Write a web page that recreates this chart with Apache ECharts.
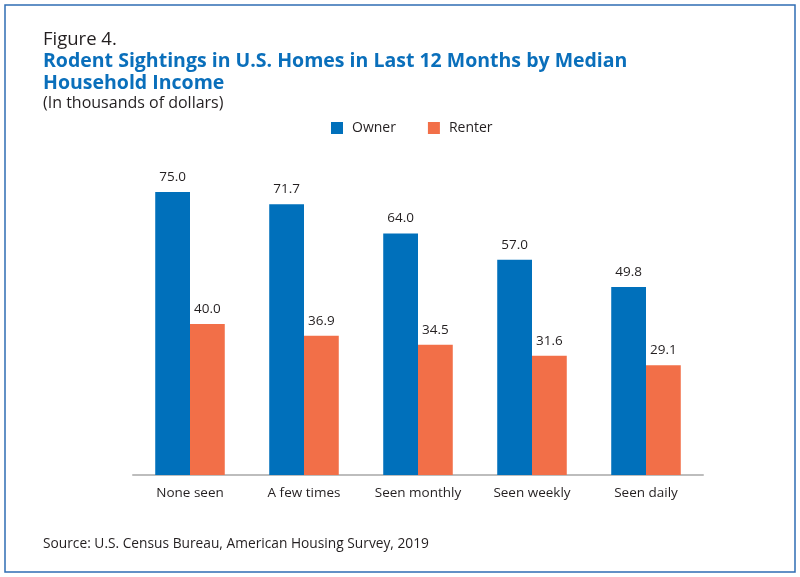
<!DOCTYPE html>
<html><head><meta charset="utf-8">
<script src="https://cdn.jsdelivr.net/npm/echarts@6/dist/echarts.min.js"></script>
<style>html,body{margin:0;padding:0;background:#fff}#c{width:800px;height:577px}</style>
</head><body><div id="c"></div>
<script>
const categories = ['None seen', 'A few times', 'Seen monthly', 'Seen weekly', 'Seen daily'];
const ownerValues = [75.0, 71.7, 64.0, 57.0, 49.8];
const renterValues = [40.0, 36.9, 34.5, 31.6, 29.1];
const seriesNames = ['Owner', 'Renter'];

const FONT = '"Open Sans", "Noto Sans", sans-serif';
const chart = echarts.init(document.getElementById('c'), null, {renderer: 'canvas'});
const lbl = {show: true, position: 'top', distance: 8, color: '#231f20', fontSize: 13.5, fontFamily: FONT,
  formatter: p => p.value.toFixed(1)};
chart.setOption({
  animation: false,
  backgroundColor: '#fff',
  textStyle: {fontFamily: FONT},
  title: [
    {text: 'Figure 4.', left: 38, top: 25, textStyle: {fontSize: 18.5, fontWeight: 'normal', color: '#231f20', fontFamily: FONT}},
    {text: 'Rodent Sightings in U.S. Homes in Last 12 Months by Median\nHousehold Income', left: 38, top: 45,
      textStyle: {fontSize: 19.5, fontWeight: 'bold', color: '#0a6fbb', lineHeight: 22, fontFamily: FONT}},
    {text: '(In thousands of dollars)', left: 38, top: 90, textStyle: {fontSize: 16, fontWeight: 'normal', color: '#231f20', fontFamily: FONT}},
    {text: 'Source: U.S. Census Bureau, American Housing Survey, 2019', left: 38, top: 532,
      textStyle: {fontSize: 13.75, fontWeight: 'normal', color: '#231f20', fontFamily: FONT}}
  ],
  graphic: [{type: 'rect', shape: {x: 5, y: 5, width: 790, height: 567},
    style: {fill: 'none', stroke: '#2f6db4', lineWidth: 1.5}, silent: true}],
  legend: {data: seriesNames, top: 116, left: 326, itemWidth: 12, itemHeight: 12, itemGap: 32,
    icon: 'rect', textStyle: {fontSize: 14, color: '#231f20', fontFamily: FONT, padding: [0, 0, 0, 4]}},
  grid: {left: 133, right: 97, top: 173, bottom: 102, containLabel: false},
  xAxis: {type: 'category', data: categories,
    axisLine: {lineStyle: {color: '#bdbdbd', width: 2}}, axisTick: {show: false},
    axisLabel: {color: '#231f20', fontSize: 13.5, margin: 11, fontFamily: FONT}},
  yAxis: {type: 'value', min: 0, max: 80, show: false, splitLine: {show: false}},
  series: [
    {name: seriesNames[0], type: 'bar', data: ownerValues, barGap: '0%', barCategoryGap: '39%',
      itemStyle: {color: '#0070bb'}, label: lbl},
    {name: seriesNames[1], type: 'bar', data: renterValues,
      itemStyle: {color: '#f26f48'}, label: lbl}
  ]
});
</script></body></html>
